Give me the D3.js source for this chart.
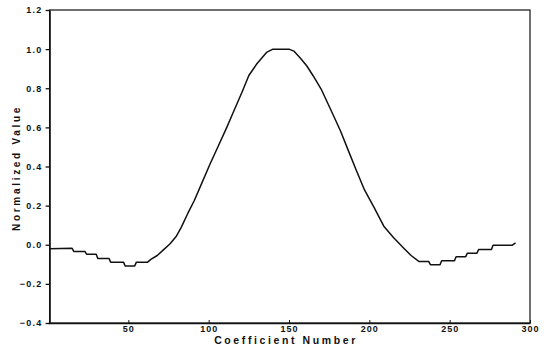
<!DOCTYPE html>
<html>
<head>
<meta charset="utf-8">
<script src="https://cdn.jsdelivr.net/npm/d3@7"></script>
<style>
  html, body { margin: 0; padding: 0; background: #fff; }
  svg { display: block; }
  text { font-family: "Liberation Sans", Arial, sans-serif; font-weight: bold; fill: #111; }
</style>
</head>
<body>
<svg id="chart" width="549" height="351"></svg>
<script>
// Data (vertices of the plotted trace)
const coefficient = [1, 15, 16, 23, 24, 30, 31, 38, 39, 47, 48, 54, 55, 62, 64, 68, 72, 76, 80, 83, 87, 91, 96, 101, 106, 111, 116, 121, 125, 130, 136, 140, 150, 153, 157, 161, 165, 170, 176, 182, 187, 192, 197, 203, 209, 215, 221, 226, 230, 231, 237, 238, 244, 245, 253, 254, 260, 261, 267, 268, 276, 277, 289, 291];
const normalizedValue = [-0.02, -0.018, -0.034, -0.034, -0.048, -0.048, -0.07, -0.07, -0.089, -0.089, -0.108, -0.108, -0.089, -0.089, -0.075, -0.055, -0.025, 0.005, 0.045, 0.09, 0.16, 0.225, 0.32, 0.415, 0.505, 0.595, 0.69, 0.785, 0.865, 0.925, 0.983, 1.0, 1.0, 0.99, 0.955, 0.915, 0.864, 0.796, 0.69, 0.583, 0.48, 0.378, 0.28, 0.19, 0.095, 0.037, -0.014, -0.055, -0.08, -0.086, -0.086, -0.102, -0.102, -0.082, -0.082, -0.061, -0.061, -0.043, -0.043, -0.024, -0.024, -0.002, -0.002, 0.01];
const xTicks = [50, 100, 150, 200, 250, 300];
const yTicks = [-0.4, -0.2, 0.0, 0.2, 0.4, 0.6, 0.8, 1.0, 1.2];
const xTitle = "Coefficient Number";
const yTitle = "Normalized Value";

const svg = d3.select("#chart");
const x = d3.scaleLinear().domain([0, 300]).range([48, 530]);
const y = d3.scaleLinear().domain([-0.4, 1.2]).range([323, 10]);

// frame
svg.append("rect")
  .attr("x", x(1)).attr("y", y(1.2))
  .attr("width", x(300) - x(1)).attr("height", y(-0.4) - y(1.2))
  .attr("fill", "none").attr("stroke", "#111").attr("stroke-width", 1.2);

// y axis
const yAxis = svg.append("g")
  .attr("transform", `translate(${x(1)},0)`)
  .call(d3.axisLeft(y).tickValues(yTicks).tickFormat(d3.format(".1f")).tickSize(4).tickSizeOuter(0).tickPadding(3));
yAxis.select(".domain").attr("stroke", "#111").attr("stroke-width", 1.3);
yAxis.selectAll(".tick line").attr("stroke", "#111").attr("stroke-width", 1.3);
yAxis.selectAll("text").attr("font-size", 9).attr("letter-spacing", 1.3).attr("font-family", null).attr("fill", "#111");

// x axis
const xAxis = svg.append("g")
  .attr("transform", `translate(0,${y(-0.4)})`)
  .call(d3.axisBottom(x).tickValues(xTicks).tickSize(-3).tickSizeOuter(0).tickPadding(3));
xAxis.select(".domain").attr("stroke", "#111").attr("stroke-width", 1.3);
xAxis.selectAll(".tick line").attr("stroke", "#111").attr("stroke-width", 1);
xAxis.selectAll("text").attr("font-size", 9).attr("letter-spacing", 1).attr("font-family", null).attr("fill", "#111");

// trace
const pts = coefficient.map((c, i) => [c, normalizedValue[i]]);
svg.append("path")
  .datum(pts)
  .attr("fill", "none")
  .attr("stroke", "#111")
  .attr("stroke-width", 1.5)
  .attr("stroke-linejoin", "round")
  .attr("d", d3.line().x(d => x(d[0])).y(d => y(d[1])));

// titles
svg.append("text")
  .attr("x", 286).attr("y", 344)
  .attr("text-anchor", "middle")
  .attr("font-size", 10.5).attr("letter-spacing", 2.6)
  .text(xTitle);
svg.append("text")
  .attr("transform", "translate(20,168) rotate(-90)")
  .attr("text-anchor", "middle")
  .attr("font-size", 10).attr("letter-spacing", 2.7)
  .text(yTitle);
</script>
</body>
</html>
